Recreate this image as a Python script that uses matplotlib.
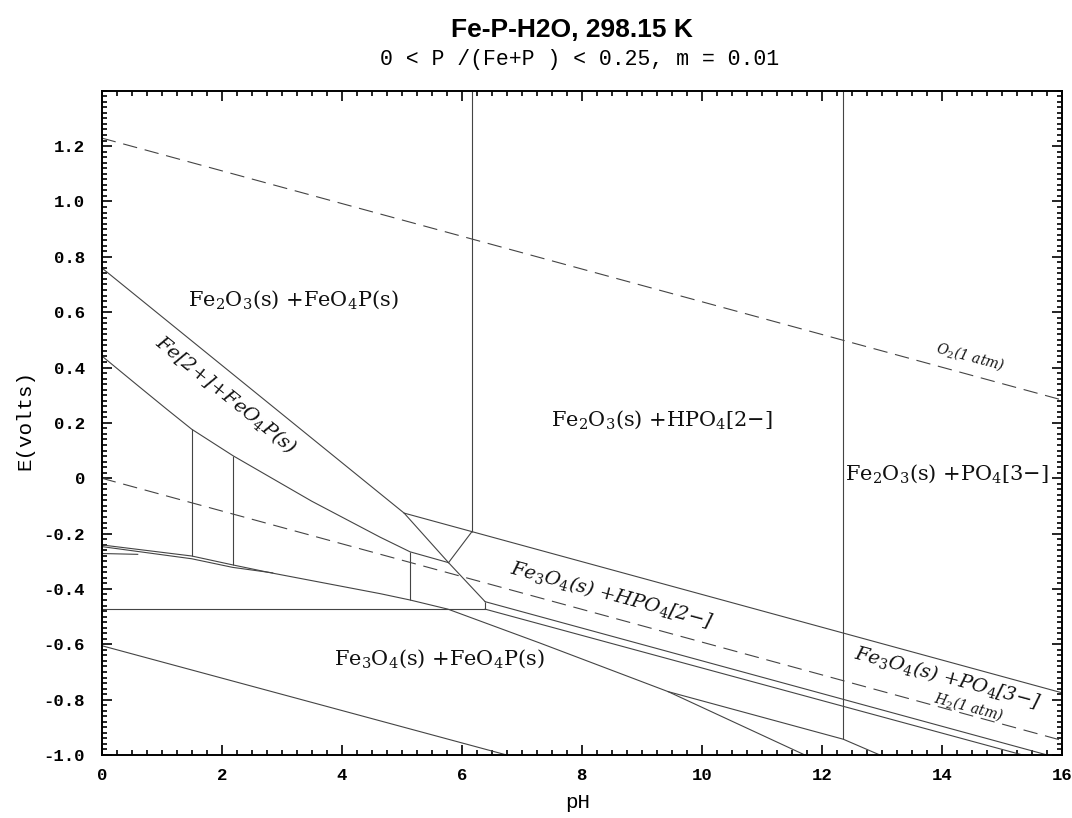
import matplotlib.pyplot as plt
from matplotlib.ticker import FixedLocator, FixedFormatter, MultipleLocator

plt.rcParams['mathtext.fontset'] = 'dejavuserif'

# Water stability lines (dashed)
o2_ph = [0.0, 16.0]
o2_e = [1.229, 0.283]
h2_ph = [0.0, 16.0]
h2_e = [0.0, -0.947]

# Boundaries between regions (solid)
a_ph = [0.0, 5.04, 5.78, 6.39]
a_e = [0.76, -0.126, -0.305, -0.446]
b_ph = [5.04, 16.0]
b_e = [-0.126, -0.775]
c_ph = [6.39, 15.76]
c_e = [-0.446, -1.0]
d_ph = [6.39, 15.35]
d_e = [-0.473, -1.0]
curve_ph = [0.0, 0.6, 1.08, 1.5, 2.19, 3.5, 4.64, 5.14, 5.78]
curve_e = [0.442, 0.335, 0.250, 0.177, 0.081, -0.083, -0.213, -0.266, -0.305]
l1_ph = [0.0, 1.5, 2.18, 2.8, 4.64, 5.14, 5.77, 7.31, 9.44, 11.72]
l1_e = [-0.241, -0.281, -0.313, -0.341, -0.417, -0.440, -0.473, -0.596, -0.771, -1.0]
l2_ph = [0.0, 1.5, 2.18, 2.85]
l2_e = [-0.247, -0.291, -0.322, -0.342]
l3_ph = [0.0, 0.6]
l3_e = [-0.272, -0.275]
f_ph = [9.44, 12.36, 12.97]
f_e = [-0.771, -0.943, -1.0]
g_ph = [0.0, 6.75]
g_e = [-0.605, -1.0]
horiz_ph = [0.0, 6.39]
horiz_e = [-0.473, -0.473]
kink_ph = [6.17, 5.78]
kink_e = [-0.193, -0.305]

# Vertical boundaries: pH, E top, E bottom
vert_ph = [1.5, 2.18, 5.14, 6.17, 6.39, 12.36]
vert_top = [0.177, 0.081, -0.266, 1.4, -0.446, 1.4]
vert_bot = [-0.281, -0.313, -0.440, -0.193, -0.473, -0.943]

# Axis ticks
xticks = [0, 2, 4, 6, 8, 10, 12, 14, 16]
xtick_labels = ['0', '2', '4', '6', '8', '10', '12', '14', '16']
yticks = [-1.0, -0.8, -0.6, -0.4, -0.2, 0.0, 0.2, 0.4, 0.6, 0.8, 1.0, 1.2]
ytick_labels = ['-1.0', '-0.8', '-0.6', '-0.4', '-0.2', '0', '0.2', '0.4', '0.6', '0.8', '1.0', '1.2']

fig = plt.figure(figsize=(10.72, 8.18), dpi=100)
ax = fig.add_axes([0.0949, 0.077, 0.8955, 0.8121])

line_kw = dict(color='#444444', lw=0.8)

# Dashed water lines
ax.plot(o2_ph, o2_e, ls=(0, (13, 7)), **line_kw)
ax.plot(h2_ph, h2_e, ls=(0, (13, 7)), **line_kw)

# Solid boundaries
for xs, ys in [(a_ph, a_e), (b_ph, b_e), (c_ph, c_e), (d_ph, d_e),
               (curve_ph, curve_e), (l1_ph, l1_e), (l2_ph, l2_e), (l3_ph, l3_e),
               (f_ph, f_e), (g_ph, g_e), (horiz_ph, horiz_e), (kink_ph, kink_e)]:
    ax.plot(xs, ys, **line_kw)
ax.vlines(vert_ph, vert_bot, vert_top, **line_kw)

# Region labels
lab = dict(family='DejaVu Serif', fontsize=15, color='#111111', ha='center', va='center')
ax.text(3.2, 0.646, 'Fe$_2$O$_3$(s) +FeO$_4$P(s)', **lab)
ax.text(9.33, 0.213, 'Fe$_2$O$_3$(s) +HPO$_4$[2−]', **lab)
ax.text(14.08, 0.015, 'Fe$_2$O$_3$(s) +PO$_4$[3−]', **lab)
ax.text(5.63, -0.651, 'Fe$_3$O$_4$(s) +FeO$_4$P(s)', **lab)
rot = dict(lab, fontsize=14, style='italic')
ax.text(2.08, 0.30, 'Fe[2+]+FeO$_4$P(s)', rotation=-39, **rot)
ax.text(8.5, -0.42, 'Fe$_3$O$_4$(s) +HPO$_4$[2−]', rotation=-15, **rot)
ax.text(14.1, -0.72, 'Fe$_3$O$_4$(s) +PO$_4$[3−]', rotation=-15, **rot)
small = dict(family='DejaVu Serif', fontsize=10, style='italic', color='#111111',
             ha='center', va='center', rotation=-15)
ax.text(14.47, 0.44, 'O$_2$(1 atm)', **small)
ax.text(14.45, -0.825, 'H$_2$(1 atm)', **small)

# Axes and ticks
ax.set_xlim(0, 16)
ax.set_ylim(-1.0, 1.4)
ax.xaxis.set_major_locator(FixedLocator(xticks))
ax.xaxis.set_major_formatter(FixedFormatter(xtick_labels))
ax.xaxis.set_minor_locator(MultipleLocator(0.25))
ax.yaxis.set_major_locator(FixedLocator(yticks))
ax.yaxis.set_major_formatter(FixedFormatter(ytick_labels))
ax.yaxis.set_minor_locator(MultipleLocator(0.02))
ax.tick_params(which='both', direction='in', top=True, right=True, width=1.2, color='black')
ax.tick_params(which='major', length=7)
ax.tick_params(which='minor', length=3.5)
ax.tick_params(axis='x', pad=9)
ax.tick_params(axis='y', pad=12)
for lbl in ax.get_xticklabels() + ax.get_yticklabels():
    lbl.set_family('Liberation Mono')
    lbl.set_weight('bold')
    lbl.set_fontsize(12.5)
for sp in ax.spines.values():
    sp.set_linewidth(1.4)

# Titles and axis labels
fig.text(571.5 / 1072, 1 - 37 / 818, 'Fe-P-H2O, 298.15 K', ha='center', va='baseline',
         family='Liberation Sans', weight='bold', fontsize=19)
fig.text(580 / 1072, 1 - 65 / 818, '0 < P /(Fe+P ) < 0.25, m = 0.01', ha='center',
         va='baseline', family='Liberation Mono', fontsize=15.5)
fig.text(25 / 1072, 1 - 420 / 818, 'E(volts)', rotation=90, ha='center', va='center',
         family='Liberation Mono', fontsize=15)
fig.text(578 / 1072, 1 - 803 / 818, 'pH', ha='center', va='center',
         family='Liberation Mono', fontsize=15)

fig.savefig('out.png', dpi=100)
